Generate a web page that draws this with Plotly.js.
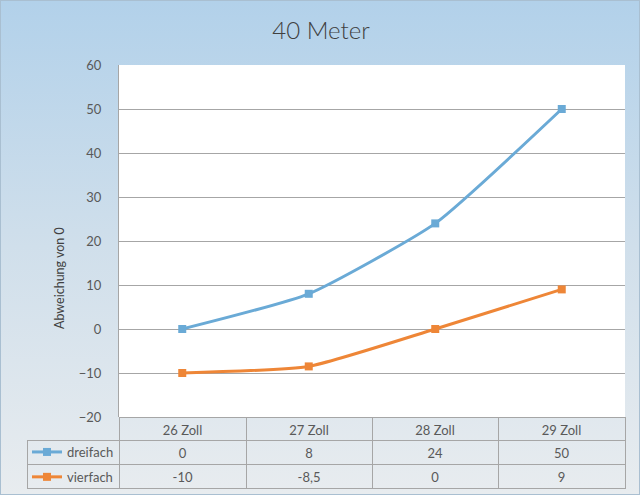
<!DOCTYPE html>
<html>
<head>
<meta charset="utf-8">
<script src="https://cdn.plot.ly/plotly-3.0.1.min.js"></script>
<style>
  body { margin: 0; }
  #chart {
    width: 640px; height: 495px; box-sizing: border-box;
    border: 1px solid #a9bfd1;
    background: linear-gradient(to bottom, #b2d1ea 0%, #d0dfeb 50%, #e8ecef 100%);
  }
</style>
</head>
<body>
<div id="chart"></div>
<script>
var categories = ["26 Zoll", "27 Zoll", "28 Zoll", "29 Zoll"];
var dreifach = [0, 8, 24, 50];
var vierfach = [-10, -8.5, 0, 9];
var dreifachLabels = ["0", "8", "24", "50"];
var vierfachLabels = ["-10", "-8,5", "0", "9"];

var blue = "#6aaad6";
var orange = "#ee8637";
var gridGray = "#a6a6a6";
var textGray = "#595959";

function plotChart() {
  var s1 = {
    x: categories, y: dreifach, name: "dreifach",
    type: "scatter", mode: "lines+markers",
    line: { color: blue, width: 3, shape: "spline", smoothing: 0.5 },
    marker: { symbol: "square", size: 8, color: blue },
    legendgroup: "a"
  };
  var s2 = {
    x: categories, y: vierfach, name: "vierfach",
    type: "scatter", mode: "lines+markers",
    line: { color: orange, width: 3, shape: "spline", smoothing: 0.5 },
    marker: { symbol: "square", size: 8, color: orange },
    legendgroup: "b"
  };
  var none = "rgba(0,0,0,0)";
  var table = {
    type: "table",
    domain: { x: [26 / 640, 624 / 640], y: [0, 79 / 495] },
    columnwidth: [92, 127, 126, 126, 127],
    header: {
      values: [""].concat(categories),
      height: 23,
      align: "center",
      fill: { color: none },
      line: { color: [none, gridGray, gridGray, gridGray, gridGray], width: 1 },
      font: { family: "Lato, sans-serif", size: 13, color: textGray }
    },
    cells: {
      values: [["", ""]].concat(dreifachLabels.map(function (d, i) {
        return [d, vierfachLabels[i]];
      })),
      height: 24,
      align: "center",
      fill: { color: none },
      line: { color: gridGray, width: 1 },
      font: { family: "Lato, sans-serif", size: 13, color: textGray }
    }
  };
  var layout = {
    width: 640, height: 495,
    margin: { l: 0, r: 0, t: 0, b: 0 },
    paper_bgcolor: none,
    plot_bgcolor: "#ffffff",
    font: { family: "Lato, sans-serif", color: textGray },
    title: {
      text: "40 Meter",
      font: { family: "Lato, sans-serif", size: 24, color: "#404040", weight: 300 },
      x: 0.5, xref: "paper", y: 0.94, yref: "container", yanchor: "middle"
    },
    showlegend: true,
    legend: {
      x: 26 / 640, xanchor: "left", y: 59 / 495, yanchor: "top",
      bgcolor: none, itemwidth: 30, tracegroupgap: 5,
      font: { family: "Lato, sans-serif", size: 13, color: textGray }
    },
    annotations: [{
      text: "Abweichung von 0", textangle: -90, showarrow: false,
      xref: "paper", yref: "paper", x: 58 / 640, y: (495 - 277) / 495,
      xanchor: "center", yanchor: "middle",
      font: { family: "Lato, sans-serif", size: 12.5, color: "#404040" }
    }],
    xaxis: {
      type: "category",
      domain: [118 / 640, 624 / 640],
      range: [-0.5, 3.5],
      showticklabels: false, showgrid: false, zeroline: false, showline: false
    },
    yaxis: {
      domain: [79 / 495, 431 / 495],
      range: [-20, 60], dtick: 10,
      showgrid: true, gridcolor: gridGray, gridwidth: 1,
      zeroline: false, showline: true, linecolor: gridGray,
      ticks: "", ticklabelstandoff: 14,
      tickfont: { family: "Lato, sans-serif", size: 13, color: textGray }
    }
  };
  Plotly.newPlot("chart", [s1, s2, table], layout, { displayModeBar: false });
}
plotChart();
</script>
</body>
</html>
